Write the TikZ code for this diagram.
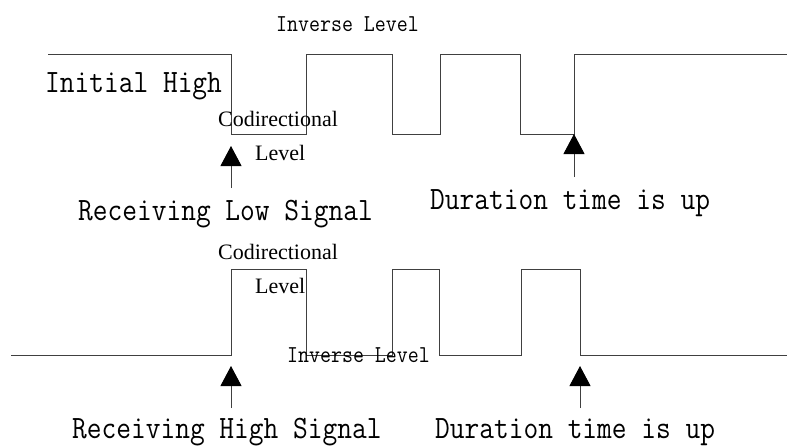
\documentclass[tikz,border=0pt]{standalone}
\usepackage{fontspec}
\setmainfont{Liberation Serif}
\usetikzlibrary{arrows.meta}

\newcommand{\tallmono}[1]{\scalebox{1}[1.14]{#1}}

\tikzset{
  wave/.style={line width=1pt, color=black!75},
  trig/.style={line width=1pt, color=black!75, -{Triangle[width=21pt,length=20pt,fill=black,color=black]}},
  bigtxt/.style={anchor=base west, inner sep=0pt, font=\fontsize{28.6}{30}\selectfont\ttfamily},
  smalltxt/.style={anchor=base west, inner sep=0pt, font=\fontsize{21.3}{23}\selectfont\ttfamily},
  serif/.style={anchor=base west, inner sep=0pt, font=\fontsize{22}{24}\selectfont}
}

\begin{document}
\begin{tikzpicture}[x=1pt,y=-1pt]
            \useasboundingbox (0,0) rectangle (787,445);
            % first waveform: initial high
            \draw[wave] (48,54) -- (231,54) -- (231,134) -- (306,134) -- (306,54) -- (392,54) -- (392,134)
                -- (440,134) -- (440,54) -- (520,54) -- (520,134) -- (574,134) -- (574,54) -- (787,54);
            \node[bigtxt] (inithigh) at (45,92) {\tallmono{Initial High}};
            \node[smalltxt] (inv1) at (276,31) {\tallmono{Inverse Level}};
            \node[serif] (codir1) at (218,126) {Codirectional};
            \node[serif] (lev1) at (255,160) {Level};
            \coordinate (recv1) at (231,188);
            \coordinate (recv1tip) at (231,146);
            \draw[trig] (recv1) -- (recv1tip);
            \node[bigtxt] (lowsig) at (78,220) {\tallmono{Receiving Low Signal}};
            \coordinate (dur1) at (574,177);
            \coordinate (dur1tip) at (574,134);
            \draw[trig] (dur1) -- (dur1tip);
            \node[bigtxt] (durup1) at (430,209) {\tallmono{Duration time is up}};
            % second waveform: initial low
            \draw[wave] (11,355) -- (231,355) -- (231,269) -- (306,269) -- (306,355) -- (392,355) -- (392,269)
                -- (439,269) -- (439,355) -- (521,355) -- (521,269) -- (580,269) -- (580,355) -- (787,355);
            \node[serif] (codir2) at (218,259) {Codirectional};
            \node[serif] (lev2) at (255,293) {Level};
            \node[smalltxt] (inv2) at (287,362) {\tallmono{Inverse Level}};
            \coordinate (recv2) at (231,408);
            \coordinate (recv2tip) at (231,366);
            \draw[trig] (recv2) -- (recv2tip);
            \node[bigtxt] (highsig) at (72,438) {\tallmono{Receiving High Signal}};
            \coordinate (dur2) at (580,408);
            \coordinate (dur2tip) at (580,366);
            \draw[trig] (dur2) -- (dur2tip);
            \node[bigtxt] (durup2) at (435,438) {\tallmono{Duration time is up}};
        \end{tikzpicture}
\end{document}
